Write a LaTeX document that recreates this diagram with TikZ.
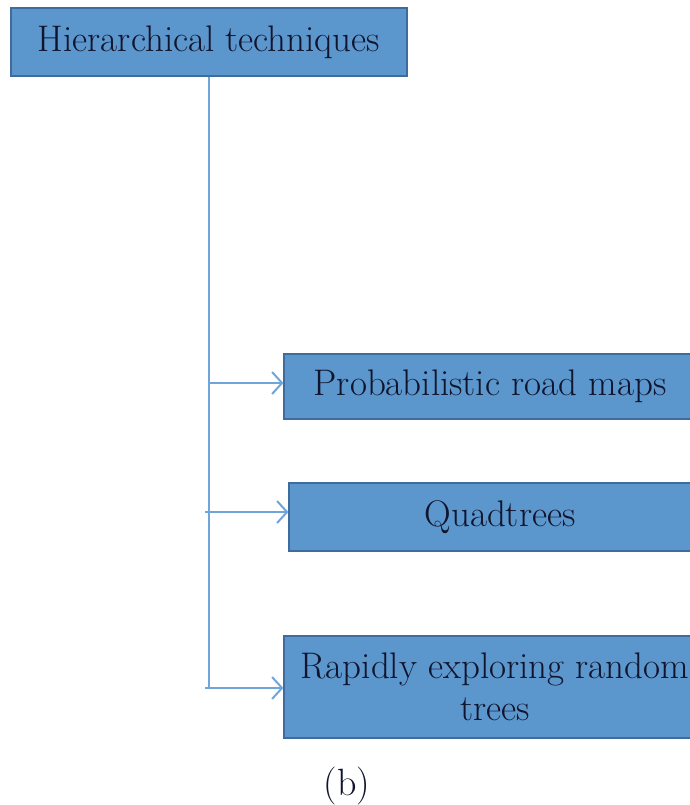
\documentclass[tikz,border=0pt]{standalone}
\usepackage{tikz}
\usetikzlibrary{calc}
\usetikzlibrary{arrows.meta}
\usetikzlibrary{positioning}
\usepackage{color}
\definecolor{boxfill}{RGB}{91, 150, 205}
\definecolor{boxline}{RGB}{62, 108, 156}
\definecolor{trunkline}{RGB}{110, 165, 218}
\definecolor{inkblue}{RGB}{16, 20, 44}

\tikzset{
    techbox/.style={draw=boxline, fill=boxfill, line width=1.2pt, text=inkblue, inner sep=0pt,
                    align=center, font=\fontsize{37}{42}\selectfont},
    branch/.style={draw=trunkline, line width=2pt},
    chevron/.style={-{Straight Barb[length=10pt, width=22pt]}},
}

\begin{document}
\begin{tikzpicture}[x=1pt, y=-1pt]
            \useasboundingbox (0, 0) rectangle (690, 805);
            \node[techbox, minimum width=396pt, minimum height=68pt]  (top)  at (209, 42.0)  {Hierarchical techniques};
            \node[techbox, minimum width=412pt, minimum height=65pt]  (prm)  at (490, 386.5) {Probabilistic road maps};
            \node[techbox, minimum width=422pt, minimum height=68pt]  (quad) at (500, 517.0) {Quadtrees};
            \node[techbox, minimum width=422pt, minimum height=102pt] (rrt)  at (495, 687.0) {Rapidly exploring random\\trees};
            \coordinate (b1) at (209, 383);
            \coordinate (b2) at (209, 512);
            \coordinate (b3) at (209, 688);
            \draw[branch] (top.south) -- (b3);
            \draw[branch, chevron] (b1) -- (b1 -| prm.west);
            \draw[branch, chevron] ($(b2)+(-4,0)$) -- (b2 -| quad.west);
            \draw[branch, chevron] ($(b3)+(-4,0)$) -- (b3 -| rrt.west);
            \node[text=inkblue, font=\fontsize{38}{42}\selectfont] (cap) at (347, 786) {(b)};
        \end{tikzpicture}
\end{document}
